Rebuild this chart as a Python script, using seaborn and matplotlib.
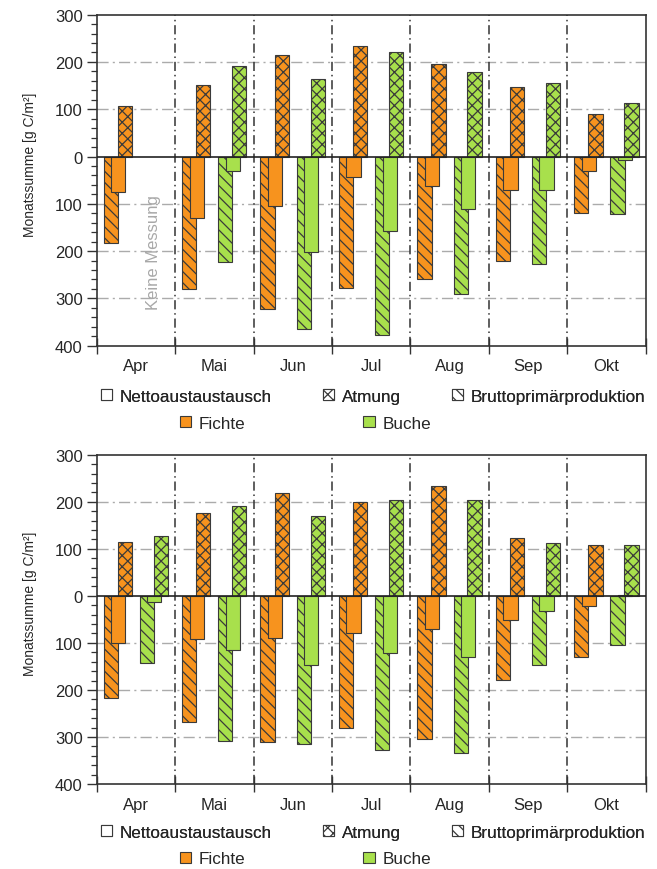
import numpy as np
import pandas as pd
import matplotlib
matplotlib.use("Agg")
import matplotlib.pyplot as plt
import matplotlib.ticker as mticker
from matplotlib.patches import Patch
import seaborn as sns

# Monatssummen [g C/m2], Bruttoprimaerproduktion und Nettoaustausch negativ
monate = ['Apr', 'Mai', 'Jun', 'Jul', 'Aug', 'Sep', 'Okt']

# oberes Diagramm
fichte_gpp_1 = [-182, -280, -322, -279, -259, -220, -120]
fichte_nee_1 = [-76, -129, -105, -44, -63, -71, -30]
fichte_resp_1 = [106, 151, 215, 234, 195, 146, 90]
buche_gpp_1 = [np.nan, -222, -364, -377, -290, -228, -121]
buche_nee_1 = [np.nan, -30, -201, -157, -111, -71, -7]
buche_resp_1 = [np.nan, 192, 164, 220, 178, 156, 113]

# unteres Diagramm
fichte_gpp_2 = [-217, -269, -311, -282, -304, -178, -130]
fichte_nee_2 = [-100, -91, -89, -80, -70, -52, -22]
fichte_resp_2 = [114, 176, 219, 199, 234, 124, 107]
buche_gpp_2 = [-143, -309, -316, -327, -334, -146, -104]
buche_nee_2 = [-14, -115, -148, -121, -130, -32, 2]
buche_resp_2 = [127, 192, 170, 204, 203, 112, 107]

orange = '#f7931e'
gruen = '#a8e04c'
rand = '#3a3a3a'

sns.set_style('ticks')
plt.rcParams['font.family'] = ['Liberation Sans', 'DejaVu Sans']
plt.rcParams['hatch.linewidth'] = 0.9
plt.rcParams['hatch.color'] = rand


def balken(ax, versatz, werte, farbe, muster, z):
    df = pd.DataFrame({'x': np.arange(len(monate)) + versatz, 'y': werte})
    sns.barplot(data=df, x='x', y='y', native_scale=True, orient='x',
                width=0.18, color=farbe, saturation=1, errorbar=None,
                hatch=muster, edgecolor=rand, linewidth=0.8, zorder=z, ax=ax)


def panel(ax, f_gpp, f_nee, f_resp, b_gpp, b_nee, b_resp):
    # Fichte
    balken(ax, 0.179, f_gpp, orange, '\\\\\\', 2)
    balken(ax, 0.275, f_nee, orange, None, 3)
    balken(ax, 0.358, f_resp, orange, 'xxx', 2)
    # Buche
    balken(ax, 0.639, b_gpp, gruen, '\\\\\\', 2)
    balken(ax, 0.734, b_nee, gruen, None, 3)
    balken(ax, 0.817, b_resp, gruen, 'xxx', 2)

    ax.set_xlim(0, 7)
    ax.set_ylim(-400, 300)
    ax.set_xlabel('')
    ax.set_ylabel('Monatssumme [g C/m²]', fontsize=10)
    ax.yaxis.set_label_coords(-0.109, 0.55)

    # Gitter und Monatsgrenzen
    for v in [200, 100, -100, -200, -300]:
        ax.axhline(v, color='#ababab', lw=1.0, ls=(0, (8, 3, 1.5, 3)), zorder=0.5)
    for m in range(1, 7):
        ax.axvline(m, color='#333333', lw=1.1, ls=(0, (6, 2.5, 1, 2.5)), zorder=1)
    ax.axhline(0, color='#222222', lw=1.2, zorder=4)

    # Achsen
    ax.yaxis.set_major_locator(mticker.MultipleLocator(100))
    ax.yaxis.set_minor_locator(mticker.MultipleLocator(20))
    ax.yaxis.set_major_formatter(mticker.FuncFormatter(lambda v, p: f'{abs(v):.0f}'))
    ax.tick_params(axis='y', which='major', length=7, width=1, direction='out',
                   labelsize=12, pad=3, color='#333333')
    ax.tick_params(axis='y', which='minor', length=4, width=0.9, direction='out',
                   color='#333333')
    ax.xaxis.set_major_locator(mticker.FixedLocator(range(8)))
    ax.xaxis.set_major_formatter(mticker.NullFormatter())
    ax.xaxis.set_minor_locator(mticker.FixedLocator(np.arange(7) + 0.5))
    ax.xaxis.set_minor_formatter(mticker.FixedFormatter(monate))
    ax.tick_params(axis='x', which='major', length=11, width=1, direction='inout',
                   color='#333333')
    ax.tick_params(axis='x', which='minor', length=0, labelsize=12, pad=9)
    for s in ax.spines.values():
        s.set_linewidth(1.2)
        s.set_color('#333333')


def legende(fig, y):
    arten = [Patch(facecolor='white', edgecolor=rand, lw=0.8),
             Patch(facecolor='white', edgecolor=rand, lw=0.8, hatch='xxx'),
             Patch(facecolor='white', edgecolor=rand, lw=0.8, hatch='\\\\\\')]
    l1 = fig.legend(arten, ['Nettoaustaustausch', 'Atmung', 'Bruttoprimärproduktion'],
                    loc='center left', bbox_to_anchor=(0.153, y), ncol=3,
                    frameon=False, fontsize=12.3, handlelength=0.65, handleheight=0.65,
                    handletextpad=0.45, columnspacing=3.0, borderpad=0, borderaxespad=0)
    baeume = [Patch(facecolor=orange, edgecolor=rand, lw=0.8),
              Patch(facecolor=gruen, edgecolor=rand, lw=0.8)]
    fig.legend(baeume, ['Fichte', 'Buche'],
               loc='center left', bbox_to_anchor=(0.274, y - 0.031), ncol=2,
               frameon=False, fontsize=12.3, handlelength=0.65, handleheight=0.65,
               handletextpad=0.45, columnspacing=6.9, borderpad=0, borderaxespad=0)
    fig.add_artist(l1)


fig = plt.figure(figsize=(6.57, 8.7), dpi=100)
ax1 = fig.add_axes([0.147, 0.6015, 0.836, 0.3805])
ax2 = fig.add_axes([0.147, 0.0977, 0.836, 0.3785])

panel(ax1, fichte_gpp_1, fichte_nee_1, fichte_resp_1, buche_gpp_1, buche_nee_1, buche_resp_1)
panel(ax2, fichte_gpp_2, fichte_nee_2, fichte_resp_2, buche_gpp_2, buche_nee_2, buche_resp_2)

ax1.text(0.73, -202, 'Keine Messung', rotation=90, ha='center', va='center',
         color='#a8a8a8', fontsize=12)

legende(fig, 0.5435)
legende(fig, 0.0425)

fig.savefig('out.png', dpi=100)
plt.close()
